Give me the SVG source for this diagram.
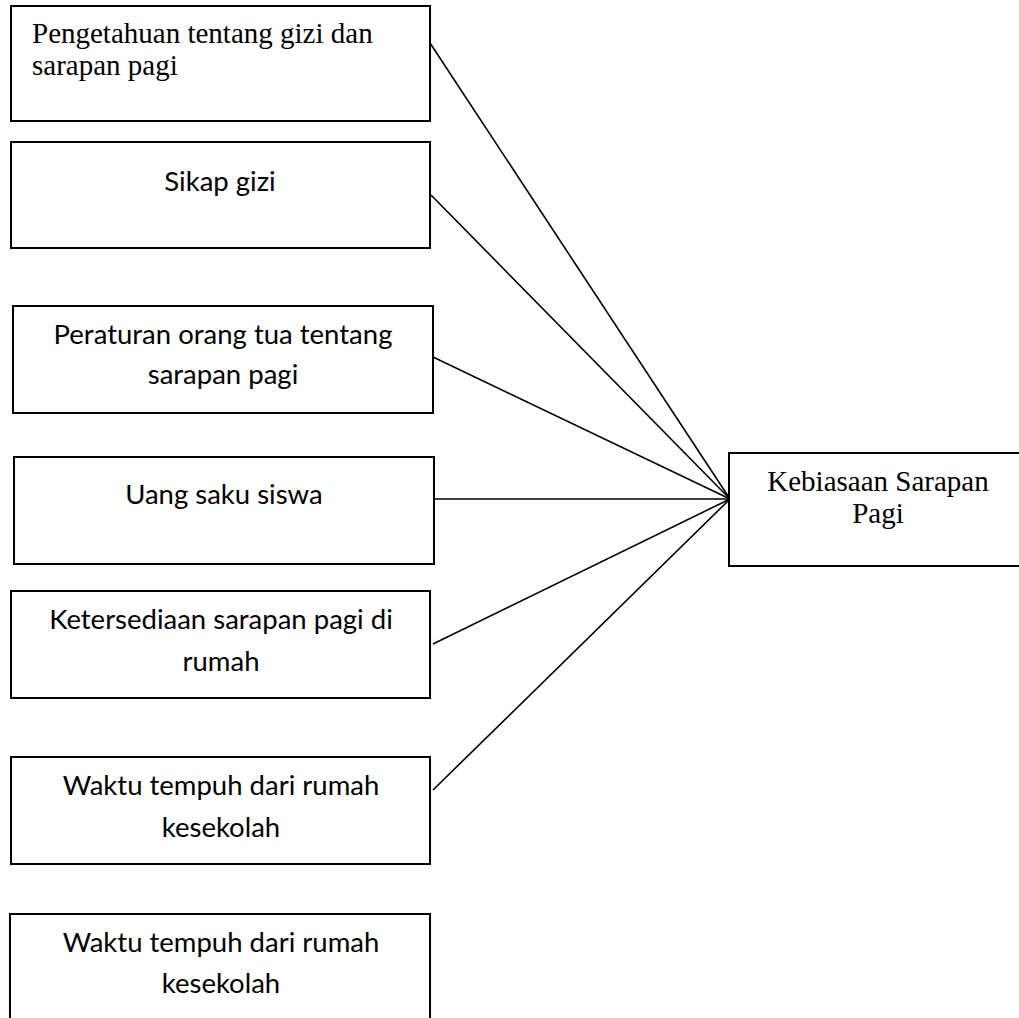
<svg xmlns="http://www.w3.org/2000/svg" width="1019" height="1018" viewBox="0 0 1019 1018">
<style>
.box{fill:#fff;stroke:#000;stroke-width:2}
.s{font-family:"Liberation Serif","Times New Roman",serif;font-size:29px;fill:#000}
.c{font-family:Lato,"Open Sans",sans-serif;font-size:27.5px;fill:#000;text-anchor:middle}
.ln{stroke:#000;stroke-width:1.6;fill:none}
</style>
<rect width="1019" height="1018" fill="#fff"/>
<g id="connectors">
<line class="ln" x1="430" y1="43" x2="730" y2="499"/>
<line class="ln" x1="431" y1="195" x2="730" y2="499"/>
<line class="ln" x1="433" y1="357" x2="730" y2="499"/>
<line class="ln" x1="434" y1="499" x2="730" y2="499"/>
<line class="ln" x1="433" y1="644" x2="730" y2="499"/>
<line class="ln" x1="433" y1="790" x2="730" y2="499"/>
</g>
<g id="n1"><rect class="box" x="11" y="6" width="419" height="115"/>
<text class="s" x="32" y="43">Pengetahuan tentang gizi dan</text>
<text class="s" x="32" y="75">sarapan pagi</text></g>
<g id="n2"><rect class="box" x="11" y="142" width="419" height="106"/>
<text class="c" x="220" y="191">Sikap gizi</text></g>
<g id="n3"><rect class="box" x="13" y="306" width="420" height="107"/>
<text class="c" x="223" y="344">Peraturan orang tua tentang</text>
<text class="c" x="223" y="384">sarapan pagi</text></g>
<g id="n4"><rect class="box" x="14" y="457" width="420" height="107"/>
<text class="c" x="224" y="504">Uang saku siswa</text></g>
<g id="n5"><rect class="box" x="11" y="591" width="419" height="107"/>
<text class="c" x="221" y="629">Ketersediaan sarapan pagi di</text>
<text class="c" x="221" y="671">rumah</text></g>
<g id="n6"><rect class="box" x="11" y="757" width="419" height="107"/>
<text class="c" x="221" y="795">Waktu tempuh dari rumah</text>
<text class="c" x="221" y="837">kesekolah</text></g>
<g id="n7"><rect class="box" x="10" y="914" width="420" height="120"/>
<text class="c" x="221" y="952">Waktu tempuh dari rumah</text>
<text class="c" x="221" y="993">kesekolah</text></g>
<g id="target"><rect class="box" x="729" y="453" width="300" height="113"/>
<text class="s" x="878" y="491" text-anchor="middle">Kebiasaan Sarapan</text>
<text class="s" x="878" y="523" text-anchor="middle">Pagi</text></g>
</svg>
